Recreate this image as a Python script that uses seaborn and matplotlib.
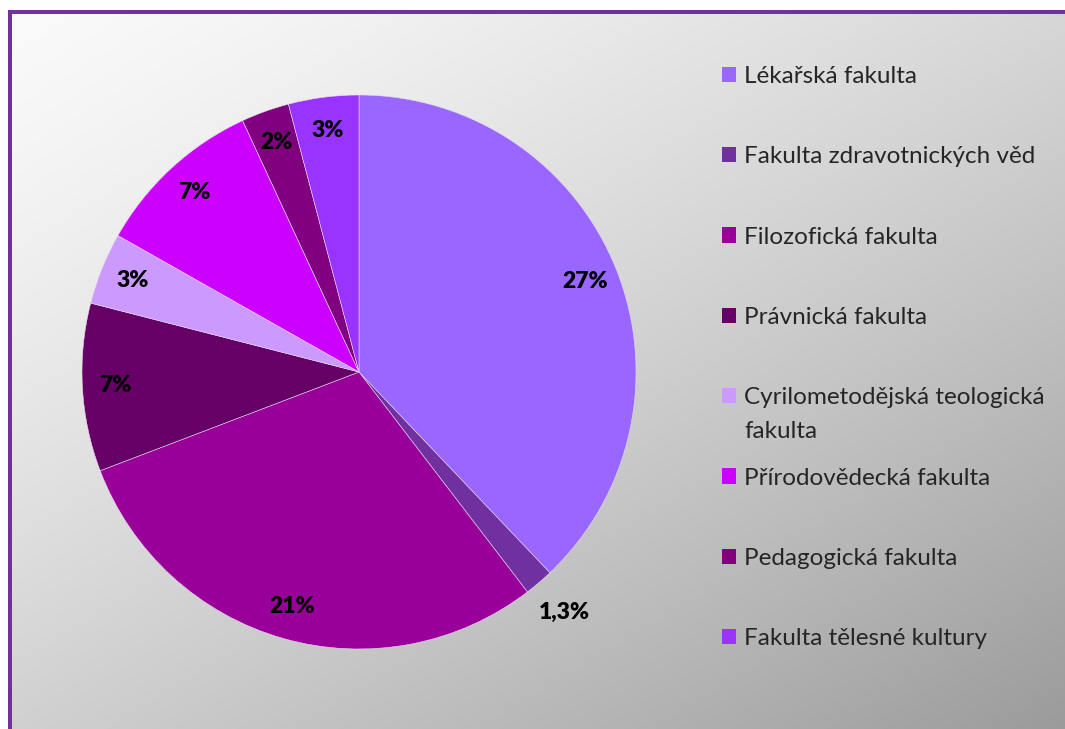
import numpy as np
import matplotlib.pyplot as plt
import seaborn as sns
from matplotlib.patches import Patch, Rectangle

# faculties, in drawing order (clockwise from 12 o'clock)
faculties = [
    "Lékařská fakulta",
    "Fakulta zdravotnických věd",
    "Filozofická fakulta",
    "Právnická fakulta",
    "Cyrilometodějská teologická",
    "Přírodovědecká fakulta",
    "Pedagogická fakulta",
    "Fakulta tělesné kultury",
]
# slice sizes (share of the circle, %)
shares = [37.9, 1.7, 29.6, 9.8, 4.2, 9.9, 2.8, 4.1]
# printed labels on the slices
pct_labels = ["27%", "1,3%", "21%", "7%", "3%", "7%", "2%", "3%"]
colors = ["#9966FF", "#7030A0", "#990099", "#660066",
          "#CC99FF", "#CC00FF", "#800080", "#9933FF"]

sns.set_theme(style="white")
plt.rcParams["font.family"] = ["Lato", "DejaVu Sans"]

W, H = 1065, 729
fig = plt.figure(figsize=(W / 100, H / 100), dpi=100)
fig.patch.set_facecolor("white")

# background: diagonal grey gradient with purple border on top and left
bg = fig.add_axes([0, 0, 1, 1], zorder=-1)
bg.axis("off")
yy, xx = np.mgrid[0:H, 0:W]
s = 0.47 * xx / W + 0.53 * yy / H
v = (250 - 95 * s ** 1.3) / 255
bg.imshow(np.dstack([v, v, v]), extent=(12, W, H, 14), aspect="auto",
          interpolation="bilinear")
bg.add_patch(Rectangle((8, 10), W - 8, 4, color="#7030A0", lw=0))
bg.add_patch(Rectangle((8, 10), 4, H - 10, color="#7030A0", lw=0))
bg.set_xlim(0, W)
bg.set_ylim(H, 0)

ax = fig.add_axes([82 / W, 80 / H, 554 / W, 554 / H])
wedges, texts = ax.pie(
    shares, colors=sns.color_palette(colors), labels=pct_labels,
    startangle=90, counterclock=False, labeldistance=0.88,
    wedgeprops=dict(linewidth=0.4, edgecolor="#e8d8f0"),
    textprops=dict(fontsize=16.5, fontweight="heavy", color="black",
                   ha="center", va="center"),
)
# the thin slice carries its label outside the pie
w = wedges[1]
mid = np.deg2rad((w.theta1 + w.theta2) / 2)
texts[1].set_position((1.14 * np.cos(mid), 1.14 * np.sin(mid)))
ax.set_xlim(-1, 1)
ax.set_ylim(-1, 1)

handles = [Patch(facecolor=c, edgecolor="none") for c in colors]
leg = fig.legend(
    handles, faculties, loc="upper left",
    bbox_to_anchor=(722 / W, 1 - 66 / H), frameon=False,
    fontsize=17.5, handlelength=0.58, handleheight=0.58,
    handletextpad=0.33, labelspacing=2.44, borderpad=0, borderaxespad=0,
)
# second line of the wrapped legend entry
fig.canvas.draw()
t5 = leg.get_texts()[4]
ax.annotate("fakulta", xy=(0, 0), xycoords=t5, xytext=(0, -9),
            textcoords="offset points", ha="left", va="top", fontsize=17.5)

fig.savefig("out.png", dpi=100)
